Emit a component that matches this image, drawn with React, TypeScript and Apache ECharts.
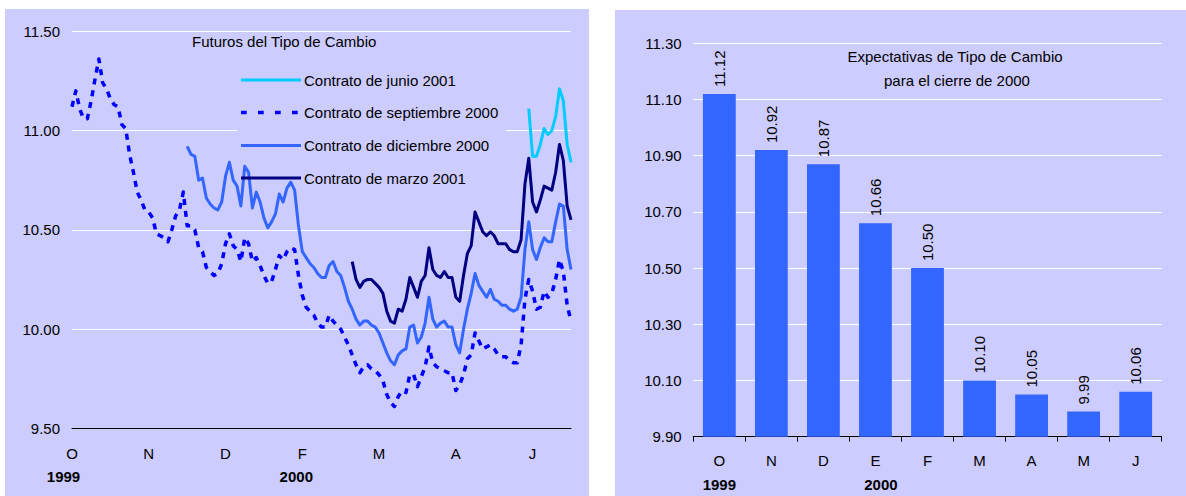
import { useEffect, useRef } from 'react';
import * as echarts from 'echarts';

const FONT = '"Liberation Sans", Arial, Helvetica, sans-serif';
const PANEL = '#CCCCFF';
const INK = '#000000';

// ---- Futuros del Tipo de Cambio (one point per trading-day step) ----
const futDays = 131;
const futTickStep = 20;
const futMonthTicks = ['O', 'N', 'D', 'F', 'M', 'A', 'J'];
const futYearTicks: Record<number, string> = { 0: '1999', 60: '2000' };
const futYTicks = { min: 9.5, max: 11.5, step: 0.5 };

const sep2000 = [
  11.12, 11.20, 11.11, 11.06, 11.06, 11.15, 11.26, 11.36, 11.24, 11.21,
  11.16, 11.13, 11.12, 11.03, 11.01, 10.88, 10.79, 10.69, 10.65, 10.60,
  10.59, 10.56, 10.48, 10.47, 10.46, 10.44, 10.50, 10.57, 10.60, 10.69,
  10.52, 10.52, 10.50, 10.41, 10.39, 10.31, 10.29, 10.27, 10.28, 10.33,
  10.43, 10.48, 10.42, 10.40, 10.34, 10.46, 10.43, 10.34, 10.36, 10.32,
  10.27, 10.23, 10.24, 10.30, 10.37, 10.35, 10.39, 10.41, 10.40, 10.27,
  10.17, 10.11, 10.09, 10.07, 10.03, 10.01, 10.01, 10.07, 10.04, 10.02,
  10.00, 9.96, 9.92, 9.87, 9.82, 9.78, 9.81, 9.82, 9.80, 9.79,
  9.77, 9.74, 9.67, 9.63, 9.61, 9.66, 9.69, 9.68, 9.77, 9.77,
  9.71, 9.76, 9.81, 9.91, 9.83, 9.81, 9.80, 9.79, 9.78, 9.78,
  9.69, 9.72, 9.77, 9.85, 9.87, 9.98, 9.94, 9.90, 9.91, 9.92,
  9.90, 9.87, 9.86, 9.86, 9.84, 9.83, 9.83, 9.92, 10.15, 10.25,
  10.19, 10.10, 10.11, 10.19, 10.16, 10.18, 10.25, 10.35, 10.29, 10.12, 10.04,
];

const dec2000Start = 30;
const dec2000 = [
  10.92, 10.88, 10.87, 10.75, 10.76, 10.66, 10.63, 10.61, 10.60, 10.64,
  10.77, 10.84, 10.75, 10.72, 10.62, 10.82, 10.79, 10.61, 10.69, 10.64,
  10.56, 10.51, 10.54, 10.58, 10.68, 10.64, 10.71, 10.74, 10.70, 10.52,
  10.39, 10.36, 10.33, 10.31, 10.28, 10.26, 10.26, 10.32, 10.34, 10.29,
  10.27, 10.21, 10.14, 10.10, 10.05, 10.02, 10.04, 10.04, 10.02, 10.01,
  9.98, 9.93, 9.88, 9.84, 9.82, 9.87, 9.89, 9.90, 10.01, 10.02,
  9.93, 9.96, 10.03, 10.16, 10.05, 10.01, 10.03, 10.04, 10.01, 10.01,
  9.92, 9.88, 10.00, 10.10, 10.18, 10.28, 10.22, 10.19, 10.16, 10.20,
  10.15, 10.14, 10.12, 10.12, 10.10, 10.09, 10.10, 10.16, 10.40, 10.54,
  10.40, 10.35, 10.41, 10.46, 10.44, 10.44, 10.54, 10.63, 10.62, 10.40, 10.30,
];

const mar2001Start = 73;
const mar2001 = [
  10.34, 10.25, 10.21, 10.24, 10.25, 10.25, 10.23,
  10.21, 10.18, 10.09, 10.04, 10.03, 10.10, 10.09, 10.15, 10.26, 10.21,
  10.16, 10.24, 10.27, 10.41, 10.30, 10.27, 10.26, 10.29, 10.26, 10.26,
  10.16, 10.14, 10.27, 10.38, 10.42, 10.59, 10.54, 10.49, 10.47, 10.49,
  10.47, 10.43, 10.43, 10.43, 10.40, 10.39, 10.39, 10.45, 10.73, 10.86,
  10.64, 10.59, 10.65, 10.72, 10.71, 10.70, 10.79, 10.93, 10.85, 10.62, 10.55,
];

const jun2001Start = 119;
const jun2001 = [11.11, 10.87, 10.87, 10.93, 11.01, 10.98, 11.00, 11.07, 11.21, 11.15, 10.93, 10.84];

// ---- Expectativas de Tipo de Cambio para el cierre de 2000 ----
const expMonths = ['O', 'N', 'D', 'E', 'F', 'M', 'A', 'M', 'J'];
const expYears: Record<number, string> = { 0: '1999', 3: '2000' };
const expValues = [11.12, 10.92, 10.87, 10.66, 10.5, 10.1, 10.05, 9.99, 10.06];
const expYTicks = { min: 9.9, max: 11.3, step: 0.2 };

const futSeries = [
  { name: 'Contrato de junio 2001', start: jun2001Start, values: jun2001, color: '#00CCFF', dash: null as number[] | null },
  { name: 'Contrato de septiembre 2000', start: 0, values: sep2000, color: '#0000FF', dash: [6, 6] },
  { name: 'Contrato de diciembre 2000', start: dec2000Start, values: dec2000, color: '#3366FF', dash: null },
  { name: 'Contrato de marzo 2001', start: mar2001Start, values: mar2001, color: '#000080', dash: null },
];

function padded(start: number, values: number[]) {
  const out: (number | null)[] = new Array(start).fill(null);
  return out.concat(values);
}

export default function App() {
  const ref = useRef<HTMLDivElement>(null);

  useEffect(() => {
    if (!ref.current) return;
    const chart = echarts.init(ref.current, undefined, { renderer: 'svg' });

    const futCategories = Array.from({ length: futDays }, (_, i) => String(i));
    const expCategories = expMonths.map((_, i) => String(i));

    const legendRows = [80, 112.5, 145.5, 178];
    const legendGraphics: any[] = [];
    futSeries.forEach((s, k) => {
      legendGraphics.push({
        type: 'line',
        z: 5,
        shape: { x1: 241, y1: legendRows[k], x2: 301, y2: legendRows[k] },
        style: {
          stroke: s.color,
          lineWidth: s.dash ? 3.5 : 3,
          lineDash: s.dash ? [5.7, 11.3] : null,
          lineCap: 'butt',
        },
      });
      legendGraphics.push({
        type: 'text',
        z: 5,
        x: 304,
        y: legendRows[k],
        style: {
          text: s.name,
          fontSize: 15,
          fontFamily: FONT,
          fill: INK,
          align: 'left',
          verticalAlign: 'middle',
        },
      });
    });

    const labelText = { fontSize: 15, fontFamily: FONT, color: INK };

    chart.setOption({
      animation: false,
      textStyle: { fontFamily: FONT },
      grid: [
        { left: 72, top: 31.3, width: 499, height: 397, outerBoundsMode: 'none' },
        { left: 693.3, top: 43.3, width: 468.4, height: 393.4, outerBoundsMode: 'none' },
      ],
      xAxis: [
        {
          gridIndex: 0,
          type: 'category',
          data: futCategories,
          boundaryGap: false,
          axisLine: { show: true, lineStyle: { color: INK, width: 1 } },
          axisTick: { show: false },
          splitLine: { show: false },
          axisLabel: {
            interval: (index: number) => index % futTickStep === 0,
            margin: 14,
            formatter: (_v: string, index: number) => {
              const m = futMonthTicks[index / futTickStep] ?? '';
              const y = futYearTicks[index];
              if (!y) return `{m|${m}}`;
              return `{m|${m}}\n{${index === 0 ? 'ya' : 'yb'}|${y}}`;
            },
            rich: {
              m: { ...labelText, lineHeight: 23 },
              ya: { ...labelText, fontWeight: 'bold', lineHeight: 23, padding: [0, 17, 0, 0] },
              yb: { ...labelText, fontWeight: 'bold', lineHeight: 23, padding: [0, 12, 0, 0] },
            },
          },
        },
        {
          gridIndex: 1,
          type: 'category',
          data: expCategories,
          boundaryGap: true,
          axisLine: { show: true, lineStyle: { color: INK, width: 1 } },
          axisTick: { show: true, length: 5, lineStyle: { color: INK, width: 1 } },
          splitLine: { show: false },
          axisLabel: {
            interval: 0,
            margin: 11.5,
            formatter: (_v: string, index: number) => {
              const m = expMonths[index];
              const y = expYears[index];
              if (!y) return `{m|${m}}`;
              return `{m|${m}}\n{${index === 0 ? 'ya' : 'yb'}|${y}}`;
            },
            rich: {
              m: { ...labelText, lineHeight: 24 },
              ya: { ...labelText, fontWeight: 'bold', lineHeight: 24 },
              yb: { ...labelText, fontWeight: 'bold', lineHeight: 24, padding: [0, 0, 0, 11] },
            },
          },
        },
      ],
      yAxis: [
        {
          gridIndex: 0,
          type: 'value',
          min: futYTicks.min,
          max: futYTicks.max,
          interval: futYTicks.step,
          axisLine: { show: false },
          axisTick: { show: false },
          splitLine: { show: true, lineStyle: { color: '#FFFFFF', width: 1.2 } },
          axisLabel: { ...labelText, margin: 12, formatter: (v: number) => v.toFixed(2) },
        },
        {
          gridIndex: 1,
          type: 'value',
          min: expYTicks.min,
          max: expYTicks.max,
          interval: expYTicks.step,
          axisLine: { show: false },
          axisTick: { show: false },
          splitLine: { show: true, lineStyle: { color: '#FFFFFF', width: 1.2 } },
          axisLabel: { ...labelText, margin: 11.6, formatter: (v: number) => v.toFixed(2) },
        },
      ],
      series: [
        ...futSeries.map((s) => ({
          name: s.name,
          type: 'line',
          xAxisIndex: 0,
          yAxisIndex: 0,
          data: padded(s.start, s.values),
          symbol: 'none',
          connectNulls: false,
          lineStyle: {
            color: s.color,
            width: s.dash ? 3.5 : 3,
            type: s.dash ?? 'solid',
            cap: 'butt',
            join: 'round',
          },
          z: 3,
        })),
        {
          name: 'Expectativas',
          type: 'bar',
          xAxisIndex: 1,
          yAxisIndex: 1,
          data: expValues,
          barWidth: '63%',
          itemStyle: { color: '#3366FF' },
          label: {
            show: true,
            position: 'top',
            distance: 7,
            rotate: 90,
            align: 'left',
            verticalAlign: 'middle',
            ...labelText,
            formatter: (p: any) => Number(p.value).toFixed(2),
          },
          z: 3,
        },
      ],
      graphic: [
        { type: 'rect', z: -10, silent: true, shape: { x: 5, y: 9, width: 584, height: 487 }, style: { fill: PANEL } },
        { type: 'rect', z: -10, silent: true, shape: { x: 615, y: 10, width: 571, height: 486 }, style: { fill: PANEL } },
        // legend box masks the 11.00 gridline behind it
        { type: 'rect', z: 1, silent: true, shape: { x: 237, y: 127, width: 269, height: 7 }, style: { fill: PANEL } },
        {
          type: 'text',
          z: 5,
          x: 284.2,
          y: 41.5,
          style: {
            text: 'Futuros del Tipo de Cambio',
            fontSize: 15,
            fontFamily: FONT,
            fill: INK,
            align: 'center',
            verticalAlign: 'middle',
          },
        },
        {
          type: 'text',
          z: 5,
          x: 955,
          y: 56.7,
          style: {
            text: 'Expectativas de Tipo de Cambio',
            fontSize: 15,
            fontFamily: FONT,
            fill: INK,
            align: 'center',
            verticalAlign: 'middle',
          },
        },
        {
          type: 'text',
          z: 5,
          x: 957,
          y: 80,
          style: {
            text: 'para el cierre de 2000',
            fontSize: 15,
            fontFamily: FONT,
            fill: INK,
            align: 'center',
            verticalAlign: 'middle',
          },
        },
        ...legendGraphics,
      ],
    });

    return () => chart.dispose();
  }, []);

  return (
    <div
      ref={ref}
      style={{ position: 'absolute', left: 0, top: 0, width: 1186, height: 496, background: '#FFFFFF' }}
    />
  );
}
